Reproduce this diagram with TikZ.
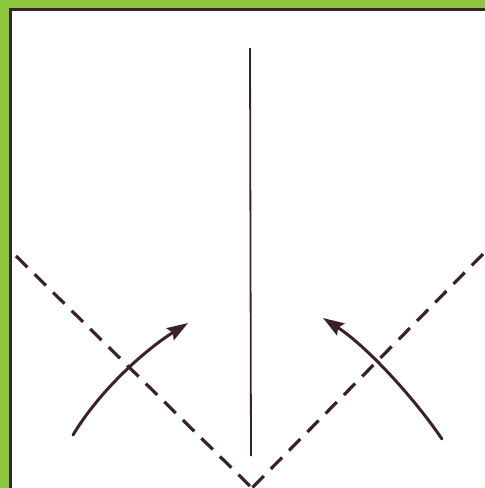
\documentclass[tikz,border=0pt]{standalone}
\usetikzlibrary{arrows.meta}
\definecolor{framegreen}{HTML}{8DC63F}
\definecolor{ink}{HTML}{3A2228}
\tikzset{
  foldline/.style={ink, line width=3.2pt, dash pattern=on 16pt off 10pt},
  crease/.style={ink, line width=1.8pt},
  movearrow/.style={ink, line width=3pt, line cap=round, -{Stealth[length=21pt,width=14pt,inset=3pt]}},
}
\begin{document}
\begin{tikzpicture}[x=1pt,y=-1pt]
  \useasboundingbox (0,0) rectangle (485,488);
  \fill[framegreen] (0,0) rectangle (485,488);
  \fill[white] (10,9) rectangle (485,488);
  \draw[ink, line width=3pt] (10,488) -- (10,9) -- (485,9);
  % named points
  \coordinate (ctop) at (250,48);
  \coordinate (cbot) at (251,456);
  \coordinate (dl) at (16,256);
  \coordinate (dr) at (483,254);
  \coordinate (apex) at (252,488);
  \coordinate (la) at (73,435);
  \coordinate (lb) at (188,323);
  \coordinate (ra) at (442,439);
  \coordinate (rb) at (323,318);
  % crease
  \draw[crease] (ctop) -- (cbot);
  % dashed fold lines
  \draw[foldline] (dl) -- (apex);
  \draw[foldline] (dr) -- (apex);
  % arrows
  \draw[movearrow] (la) .. controls (100,390) and (145,350) .. (lb);
  \draw[movearrow] (ra) .. controls (412,395) and (365,345) .. (rb);
\end{tikzpicture}
\end{document}
